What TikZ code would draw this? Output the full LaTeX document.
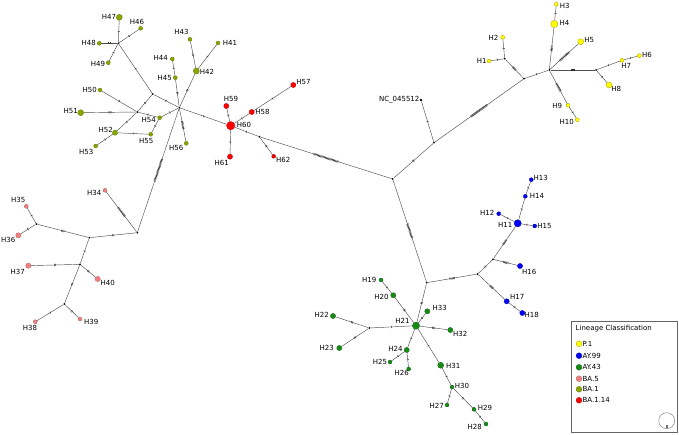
\documentclass[tikz,border=0pt]{standalone}
\usepackage{fontspec}
\setmainfont{DejaVu Sans}
\usetikzlibrary{decorations.markings}
\definecolor{cyel}{HTML}{FFFF00}\definecolor{cyeld}{HTML}{A89A00}
\definecolor{cblu}{HTML}{0000FF}\definecolor{cblud}{HTML}{0000A0}
\definecolor{cgrn}{HTML}{168C16}\definecolor{cgrnd}{HTML}{0B5A0B}
\definecolor{cpnk}{HTML}{F08080}\definecolor{cpnkd}{HTML}{B05A5A}
\definecolor{coli}{HTML}{88A800}\definecolor{colid}{HTML}{5C7300}
\definecolor{cred}{HTML}{FF0000}\definecolor{credd}{HTML}{B00000}
\definecolor{edgec}{HTML}{505050}
\definecolor{tickc}{HTML}{303030}
\newcommand\hedge[3]{\draw[edgeln,mut=#3] (#1) -- (#2);}
\tikzset{
  hap/.style={circle,inner sep=0pt,line width=0.3pt},
  sa/.style={minimum size=4pt},
  sb/.style={minimum size=5.2pt},
  sc/.style={minimum size=6pt},
  sd/.style={minimum size=7.2pt},
  se/.style={minimum size=8.4pt},
  yel/.style={hap,fill=cyel,draw=cyeld},
  blu/.style={hap,fill=cblu,draw=cblud},
  grn/.style={hap,fill=cgrn,draw=cgrnd},
  pnk/.style={hap,fill=cpnk,draw=cpnkd},
  oli/.style={hap,fill=coli,draw=colid},
  rd/.style={hap,fill=cred,draw=credd},
  jn/.style={circle,fill=black,inner sep=0pt,minimum size=2pt},
  lab/.style={font=\fontsize{7pt}{8pt}\selectfont,inner sep=0pt,text=black},
  edgeln/.style={draw=edgec,line width=0.45pt},
  mut/.style={postaction={decorate,decoration={markings,mark=at position 0.5 with {\foreach \k in {1,...,#1} {\draw[tickc,line width=0.5pt] ({(\k-(#1+1)/2)*1.2pt},-1.1pt) -- ++(0,2.2pt);}}}}}
}
\begin{document}
\begin{tikzpicture}[x=1pt,y=-1pt]
\useasboundingbox (0,0) rectangle (679,435);
% junctions
\node[jn] (J1) at (118.3,43.3) {};
\node[jn] (J2) at (152.7,94) {};
\node[jn] (J3) at (137.3,112) {};
\node[jn] (J4) at (179.3,107.7) {};
\node[jn] (J5) at (259.3,136.7) {};
\node[jn] (J6) at (137.3,232.7) {};
\node[jn] (J7) at (36.3,224) {};
\node[jn] (J8) at (89.3,237.7) {};
\node[jn] (J9) at (80,264.3) {};
\node[jn] (J10) at (64.3,304) {};
\node[jn] (J11) at (504.7,58.7) {};
\node[jn] (J12) at (524,78.7) {};
\node[jn] (J13) at (549.3,70) {};
\node[jn] (J14) at (596,70) {};
\node[jn] (J15) at (434,142.7) {};
\node[jn] (J16) at (392.7,179) {};
\node[jn] (J17) at (493,259.3) {};
\node[jn] (J18) at (477.7,274) {};
\node[jn] (J19) at (426.7,282.7) {};
\node[jn] (J20) at (369.3,328) {};
\node[jn,minimum size=2.8pt] (NC) at (421,100) {};
% yellow
\node[yel,sa] (H1) at (489,61) {};
\node[yel,sa] (H2) at (502.7,37.3) {};
\node[yel,sa] (H3) at (556.3,4.3) {};
\node[yel,sd] (H4) at (554.3,24) {};
\node[yel,sc] (H5) at (580.7,41.7) {};
\node[yel,sa] (H6) at (639.3,55.7) {};
\node[yel,sa] (H7) at (622,60.3) {};
\node[yel,sc] (H8) at (609,85) {};
\node[yel,sa] (H9) at (568,105.3) {};
\node[yel,sa] (H10) at (577.3,119.7) {};
% blue
\node[blu,sd] (H11) at (517.7,223.3) {};
\node[blu,sa] (H12) at (498.7,213.7) {};
\node[blu,sa] (H13) at (531.3,179.7) {};
\node[blu,sa] (H14) at (525.3,196.3) {};
\node[blu,sa] (H15) at (534.7,226) {};
\node[blu,sb] (H16) at (520,266) {};
\node[blu,sb] (H17) at (506.7,301.3) {};
\node[blu,sb] (H18) at (522.3,313) {};
% green
\node[grn,sa] (H19) at (381,280) {};
\node[grn,sb] (H20) at (393.3,295.3) {};
\node[grn,sd] (H21) at (416,325.7) {};
\node[grn,sb] (H22) at (333,316) {};
\node[grn,sb] (H23) at (339.3,348) {};
\node[grn,sb] (H24) at (406.7,350) {};
\node[grn,sa] (H25) at (390,362) {};
\node[grn,sa] (H26) at (408.7,369) {};
\node[grn,sa] (H27) at (447,405) {};
\node[grn,sa] (H28) at (486,424) {};
\node[grn,sa] (H29) at (474,409.3) {};
\node[grn,sa] (H30) at (452,387) {};
\node[grn,sc] (H31) at (440.7,365.3) {};
\node[grn,sb] (H32) at (450.3,330) {};
\node[grn,sb] (H33) at (427.3,311.3) {};
% pink
\node[pnk,sa] (H34) at (105,190.3) {};
\node[pnk,sa] (H35) at (26.3,206.3) {};
\node[pnk,sb] (H36) at (18.3,235.3) {};
\node[pnk,sb] (H37) at (28.3,265.7) {};
\node[pnk,sa] (H38) at (35.3,321.7) {};
\node[pnk,sa] (H39) at (80,319) {};
\node[pnk,sb] (H40) at (97.7,279) {};
% olive
\node[oli,sa] (H41) at (218,43) {};
\node[oli,sc] (H42) at (196.3,71) {};
\node[oli,sa] (H43) at (190,39.3) {};
\node[oli,sa] (H44) at (172.3,59) {};
\node[oli,sa] (H45) at (175.3,77.7) {};
\node[oli,sa] (H46) at (140.7,28.3) {};
\node[oli,sc] (H47) at (119.3,17.3) {};
\node[oli,sa] (H48) at (99.3,43.3) {};
\node[oli,sa] (H49) at (108.3,62.7) {};
\node[oli,sa] (H50) at (100,90) {};
\node[oli,sc] (H51) at (80.7,112.7) {};
\node[oli,sb] (H52) at (115,132.7) {};
\node[oli,sa] (H53) at (95.7,146) {};
\node[oli,sa] (H54) at (159.7,117.7) {};
\node[oli,sa] (H55) at (150.7,134.3) {};
\node[oli,sa] (H56) at (186.3,143.3) {};
% red
\node[rd,sb] (H57) at (293.3,85) {};
\node[rd,sb] (H58) at (251.7,112) {};
\node[rd,sb] (H59) at (226.3,106) {};
\node[rd,se] (H60) at (230.7,125.7) {};
\node[rd,sb] (H61) at (230,156.7) {};
\node[rd,sa] (H62) at (273.7,156.3) {};
% edges
\hedge{J1}{H47}{1}\hedge{J1}{H46}{1}\hedge{J1}{H48}{2}\hedge{J1}{H49}{1}\hedge{J1}{J2}{1}
\hedge{J2}{J3}{1}\hedge{J2}{J4}{1}
\hedge{J3}{H50}{1}\hedge{J3}{H51}{3}\hedge{J3}{H52}{1}\hedge{J3}{H54}{1}
\hedge{H52}{H53}{1}\hedge{H52}{H55}{1}\hedge{H55}{H54}{1}\hedge{H54}{J4}{1}
\hedge{J4}{H45}{2}\hedge{H45}{H44}{1}\hedge{J4}{H42}{2}\hedge{H42}{H43}{2}\hedge{H42}{H41}{1}
\hedge{J4}{H56}{7}\hedge{J4}{H60}{1}\hedge{J4}{J6}{20}
\hedge{H60}{H59}{1}\hedge{H60}{H58}{1}\hedge{H58}{H57}{1}\hedge{H60}{H61}{1}\hedge{H60}{J5}{1}
\hedge{J5}{H62}{2}\hedge{J5}{J16}{22}
\hedge{J6}{H34}{10}\hedge{J6}{J8}{2}\hedge{J8}{J7}{3}\hedge{J7}{H35}{1}\hedge{J7}{H36}{1}
\hedge{J8}{J9}{1}\hedge{J9}{H37}{2}\hedge{J9}{H40}{2}\hedge{J9}{J10}{2}\hedge{J10}{H38}{1}\hedge{J10}{H39}{2}
\hedge{J16}{J15}{2}\hedge{J15}{NC}{1}\hedge{J15}{J12}{17}\hedge{J12}{J11}{4}\hedge{J11}{H1}{1}\hedge{J11}{H2}{1}
\hedge{J12}{J13}{1}\hedge{J13}{H4}{5}\hedge{H4}{H3}{1}\hedge{J13}{H5}{11}\hedge{J13}{J14}{4}
\hedge{J14}{H7}{1}\hedge{H7}{H6}{1}\hedge{J14}{H8}{1}\hedge{J13}{H9}{8}\hedge{H9}{H10}{1}
\hedge{J16}{J19}{13}\hedge{J19}{J18}{5}\hedge{J18}{J17}{1}\hedge{J17}{H11}{5}\hedge{J17}{H16}{5}
\hedge{J18}{H17}{4}\hedge{H17}{H18}{1}\hedge{H11}{H12}{1}\hedge{H11}{H15}{1}\hedge{H11}{H14}{1}\hedge{H14}{H13}{1}
\hedge{J19}{H21}{2}\hedge{H21}{H33}{1}\hedge{H21}{H32}{3}\hedge{H21}{H20}{2}\hedge{H20}{H19}{1}
\hedge{H21}{J20}{1}\hedge{J20}{H22}{2}\hedge{J20}{H23}{2}\hedge{H21}{H24}{1}\hedge{H24}{H25}{1}\hedge{H24}{H26}{1}
\hedge{H21}{H31}{1}\hedge{H31}{H30}{1}\hedge{H30}{H27}{1}\hedge{H30}{H29}{2}\hedge{H29}{H28}{1}
% labels
\node[lab] (L1) at (481.7,61) {H1};
\node[lab] (L2) at (493.5,37.7) {H2};
\node[lab] (L3) at (564.7,5.7) {H3};
\node[lab] (L4) at (564.5,23.3) {H4};
\node[lab] (L5) at (589.3,40.3) {H5};
\node[lab] (L6) at (647,54.7) {H6};
\node[lab] (L7) at (626.2,65.7) {H7};
\node[lab] (L8) at (616.3,89) {H8};
\node[lab] (L9) at (557.3,106) {H9};
\node[lab] (L10) at (566.7,121.7) {H10};
\node[lab] (LNC) at (399.2,100) {NC\_045512};
\node[lab] (L11) at (505.3,225) {H11};
\node[lab] (L12) at (487.3,213) {H12};
\node[lab] (L13) at (540.8,178.3) {H13};
\node[lab] (L14) at (537,196.3) {H14};
\node[lab] (L15) at (544.5,226) {H15};
\node[lab] (L16) at (529.2,272) {H16};
\node[lab] (L17) at (517.2,297) {H17};
\node[lab] (L18) at (531.7,315) {H18};
\node[lab] (L19) at (369.2,279.7) {H19};
\node[lab] (L20) at (381.5,296.7) {H20};
\node[lab] (L21) at (402.5,320.7) {H21};
\node[lab] (L22) at (321.7,315.3) {H22};
\node[lab] (L23) at (326.7,348.3) {H23};
\node[lab] (L24) at (395.5,349) {H24};
\node[lab] (L25) at (380,362) {H25};
\node[lab] (L26) at (401.8,373.3) {H26};
\node[lab] (L27) at (436.7,406) {H27};
\node[lab] (L28) at (474.7,427.3) {H28};
\node[lab] (L29) at (485,408.3) {H29};
\node[lab] (L30) at (462,385.7) {H30};
\node[lab] (L31) at (453.2,365.7) {H31};
\node[lab] (L32) at (460.3,334.3) {H32};
\node[lab] (L33) at (439.7,307.7) {H33};
\node[lab] (L34) at (94.3,192.7) {H34};
\node[lab] (L35) at (18.3,200) {H35};
\node[lab] (L36) at (8.3,240) {H36};
\node[lab] (L37) at (17.7,271.7) {H37};
\node[lab] (L38) at (30,327.7) {H38};
\node[lab] (L39) at (91.3,322) {H39};
\node[lab] (L40) at (107.7,283) {H40};
\node[lab] (L41) at (230,43) {H41};
\node[lab] (L42) at (207,72.3) {H42};
\node[lab] (L43) at (181.5,32.3) {H43};
\node[lab] (L44) at (160.7,57.7) {H44};
\node[lab] (L45) at (164.7,78) {H45};
\node[lab] (L46) at (137,22.3) {H46};
\node[lab] (L47) at (109,17.3) {H47};
\node[lab] (L48) at (88.8,43.3) {H48};
\node[lab] (L49) at (98,64.3) {H49};
\node[lab] (L50) at (89.7,90) {H50};
\node[lab] (L51) at (70.8,110.7) {H51};
\node[lab] (L52) at (105.7,130) {H52};
\node[lab] (L53) at (86.2,151.7) {H53};
\node[lab] (L54) at (148.7,120) {H54};
\node[lab] (L55) at (146.3,140.7) {H55};
\node[lab] (L56) at (176.3,148) {H56};
\node[lab] (L57) at (303.5,81.7) {H57};
\node[lab] (L58) at (262.5,112.3) {H58};
\node[lab] (L59) at (231,98.7) {H59};
\node[lab] (L60) at (244,125.3) {H60};
\node[lab] (L61) at (221.8,163.3) {H61};
\node[lab] (L62) at (283.2,160) {H62};
% legend
\draw[draw=black!60,line width=0.7pt] (571.7,321.3) rectangle (677.7,432.7);
\node[lab,anchor=west] (LT) at (575.5,329) {Lineage Classification};
\node[yel,minimum size=5.8pt] (K1) at (579,343.7) {};
\node[blu,minimum size=5.8pt] (K2) at (579,355.7) {};
\node[grn,minimum size=5.8pt] (K3) at (579,367.3) {};
\node[pnk,minimum size=5.8pt] (K4) at (579,378.7) {};
\node[oli,minimum size=5.8pt] (K5) at (579,389.3) {};
\node[rd,minimum size=5.8pt] (K6) at (579,400.3) {};
\node[lab,anchor=west] (T1) at (582.4,343.7) {P.1};
\node[lab,anchor=west] (T2) at (582.4,355.7) {AY.99};
\node[lab,anchor=west] (T3) at (582.4,367.3) {AY.43};
\node[lab,anchor=west] (T4) at (582.4,378.7) {BA.5};
\node[lab,anchor=west] (T5) at (582.4,389.3) {BA.1};
\node[lab,anchor=west] (T6) at (582.4,400.3) {BA.1.14};
\node[circle,draw=black!55,line width=0.4pt,minimum size=16pt,inner sep=0pt] (SC) at (666.7,420.7) {};
\node[draw=black!55,line width=0.3pt,minimum size=1.8pt,inner sep=0pt] (SQ) at (666.7,426.5) {};
\end{tikzpicture}
\end{document}
